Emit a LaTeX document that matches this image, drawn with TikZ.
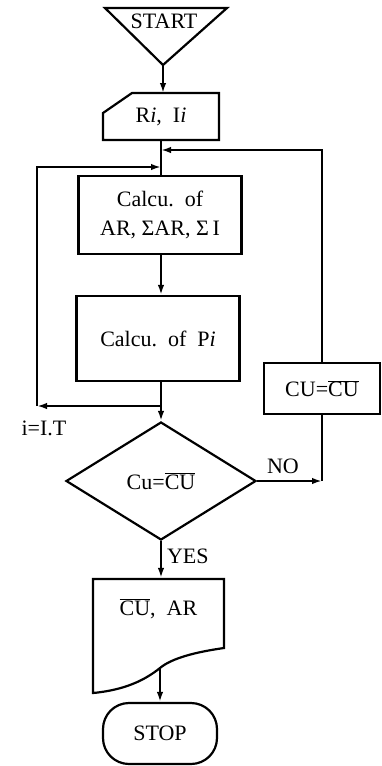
\documentclass[tikz,border=0pt]{standalone}
\usepackage{fontspec}
\setmainfont{Liberation Serif}
\usetikzlibrary{arrows.meta,shapes.geometric}
\newcommand{\ovl}[1]{$\overline{\mbox{#1}}$}
\begin{document}
\begin{tikzpicture}[x=1pt,y=-1pt,
  line width=2.2pt,
  font=\fontsize{22}{26}\selectfont,
  arr/.style={-{Latex[length=10pt,width=6.5pt]}},
  boxnode/.style={draw,rectangle,inner sep=0pt},
  txt/.style={inner sep=0pt}]
\useasboundingbox (0,0) rectangle (382,766);
% START
\node[txt] (start) at (164,21) {START};
\draw (105,8) -- (227,8) -- (163,65) -- cycle;
\coordinate (apex) at (163,65);
% input
\node[txt,minimum width=116pt,minimum height=47pt] (inp) at (161,116.5) {R\textit{i},\ \ I\textit{i}};
\draw (103,113) -- (132,93) -- (219,93) -- (219,140) -- (103,140) -- cycle;
% calc boxes
\node[boxnode,minimum width=163pt,minimum height=78pt,align=center] (calc1) at (160,215) {Calcu.\ \ of\\[3pt]AR, ΣAR, Σ\,I};
\node[boxnode,minimum width=163pt,minimum height=85pt] (calc2) at (158,338.5) {Calcu.\ \ of\ \ P\textit{i}};
% decision
\node[draw,diamond,aspect=1.61,minimum width=190pt,minimum height=118pt,inner sep=0pt] (dec) at (161,481) {Cu=\ovl{CU}};
% CU box
\node[boxnode,minimum width=116pt,minimum height=51pt] (cu) at (322,388.5) {CU=\ovl{CU}};
% output document
\node[txt,minimum width=131pt,minimum height=60pt] (doc) at (158.5,609) {\ovl{CU},\ \ AR};
\draw (93,579) -- (224,579) -- (224,648) .. controls (196,652) and (172,658) .. (160,668) .. controls (145,680) and (125,690) .. (93,693) -- cycle;
\coordinate (docb) at (160,668);
% STOP
\node[draw,rounded corners=26pt,minimum width=114pt,minimum height=61pt,inner sep=0pt] (stop) at (160,733.5) {STOP};
% coordinates
\coordinate (j1) at (161,150);
\coordinate (j2) at (161,167);
\coordinate (lj) at (161,406);
\coordinate (lc) at (37,406);
\coordinate (tl) at (37,167);
\coordinate (tr) at (322,150);
\coordinate (nr) at (322,481);
% connectors
\draw[arr] (apex) -- (163,93);
\draw (inp.south -| j1) -- (calc1.north -| j1);
\draw[arr] (calc1.south -| j1) -- (calc2.north -| j1);
\draw[arr] (calc2.south -| j1) -- (dec.north);
\draw[arr] (lj) -- (lc);
\draw[arr] (lc) -- (tl) -- (j2);
\draw[arr] (cu.north) -- (tr) -- (j1);
\draw[arr] (dec.east) -- (nr);
\draw (nr) -- (cu.south);
\draw[arr] (dec.south) -- (doc.north -| dec.south);
\draw[arr] (docb) -- (stop.north);
% labels
\node[txt] (lit) at (44,428) {i=I.T};
\node[txt] (lno) at (283,466) {NO};
\node[txt,anchor=west] (lyes) at (166,556) {YES};
\end{tikzpicture}
\end{document}
